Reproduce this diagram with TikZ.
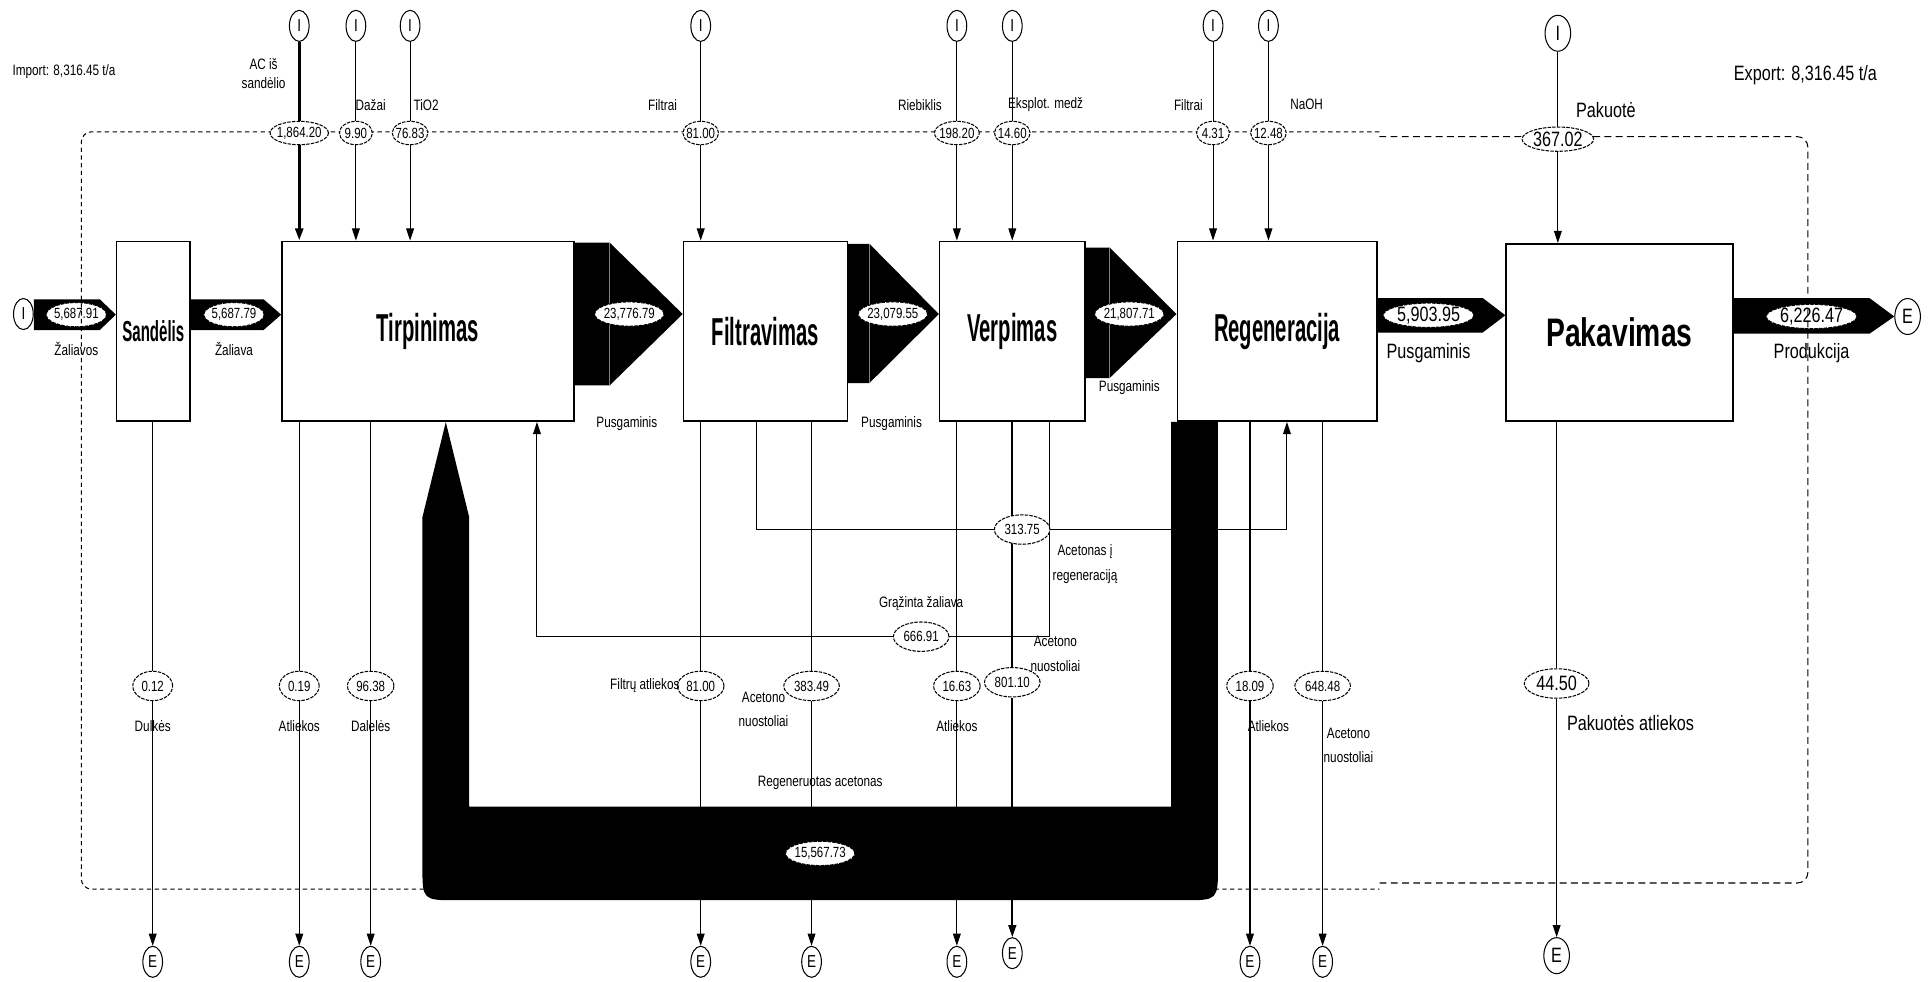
\documentclass[tikz,border=0pt]{standalone}
\usepackage{fontspec}
\setmainfont{Liberation Sans}[FakeStretch=0.78]
\newfontfamily\procfont{Liberation Sans}[FakeStretch=0.52]
\newfontfamily\pakfont{Liberation Sans}[FakeStretch=0.71]
\usetikzlibrary{shapes.geometric, arrows.meta, backgrounds}

\tikzstyle{process} = [
    rectangle,
    minimum height=3.65cm,
    draw=black,
    line width=0.9pt,
    fill=white,
    font=\procfont\bfseries\fontsize{22.5}{24}\selectfont
]
\tikzstyle{term} = [
    ellipse,
    draw=black,
    line width=0.6pt,
    fill=white,
    inner sep=0pt,
    minimum width=0.4cm,
    minimum height=0.63cm,
    font=\fontsize{10}{10}\selectfont
]
\tikzstyle{termbig} = [term, minimum width=0.52cm, minimum height=0.73cm, font=\fontsize{12}{12}\selectfont]
\tikzstyle{valtop} = [
    ellipse,
    draw=black,
    dash pattern=on 2pt off 0.7pt,
    line width=0.6pt,
    fill=white,
    inner xsep=-1pt,
    inner ysep=0pt,
    minimum width=19pt,
    minimum height=13.5pt,
    font=\fontsize{8.5}{9}\selectfont
]
\tikzstyle{val} = [valtop, inner xsep=1.2pt, minimum width=23pt, minimum height=17pt]
\tikzstyle{flowval} = [valtop, inner xsep=-0.6pt, minimum height=14pt]
\tikzstyle{valbig} = [valtop, inner xsep=0.3pt, minimum height=14pt, font=\fontsize{12}{12}\selectfont]
\tikzstyle{lbl} = [inner sep=0pt, align=center, font=\fontsize{8.7}{14}\selectfont]
\tikzstyle{lblbig} = [lbl, font=\fontsize{12}{14}\selectfont]
\tikzstyle{line} = [line width=0.6pt]
\tikzstyle{arrow} = [line width=0.6pt, -{Triangle[length=7pt,width=4.5pt]}]
\tikzstyle{flow} = [fill=black]
\tikzstyle{border} = [line width=0.6pt, dash pattern=on 2.5pt off 2pt, rounded corners=6pt]

\begin{document}
\begin{tikzpicture}[x=0.025cm, y=-0.025cm]
\useasboundingbox (0,0) rectangle (1568,797);

% processes
\node (sand) [process, minimum width=1.475cm, font=\procfont\bfseries\fontsize{16.7}{18}\selectfont] at (124.5,269) {Sandėlis};
\node (tirp) [process, minimum width=5.925cm] at (347.5,269) {Tirpinimas};
\node (filt) [process, minimum width=3.325cm] at (621.5,269) {Filtravimas};
\node (verp) [process, minimum width=2.95cm] at (822,269) {Verpimas};
\node (regen) [process, minimum width=4.05cm] at (1037,269) {Regeneracija};
\node (pak) [process, minimum width=4.6cm, minimum height=3.6cm, font=\pakfont\bfseries\fontsize{23}{24}\selectfont] at (1315,270) {Pakavimas};

% import and export
\node (iimp) [term] at (19,255) {I};
\node (eexp) [termbig] at (1549,257) {E};
\node (limp) [lbl] at (52,58) {Import: 8,316.45 t/a};
\node (lexp) [lblbig] at (1466,61) {Export: 8,316.45 t/a};

% inputs from above
\node (iac) [term] at (243,21) {I};
\node (idaz) [term] at (289,21) {I};
\node (itio) [term] at (333,21) {I};
\node (ifil) [term] at (569,21) {I};
\node (irieb) [term] at (777,21) {I};
\node (ieks) [term] at (822,21) {I};
\node (ifil2) [term] at (985,21) {I};
\node (inaoh) [term] at (1030,21) {I};
\node (ipak) [termbig] at (1265,27) {I};

\node (lac) [lbl, font=\fontsize{8.7}{11}\selectfont] at (214,60) {AC iš\\sandėlio};
\node (ldaz) [lbl] at (301,85) {Dažai};
\node (ltio) [lbl] at (346,85) {TiO2};
\node (lfil) [lbl] at (538,85) {Filtrai};
\node (lrieb) [lbl] at (747,85) {Riebiklis};
\node (leks) [lbl] at (849,85) {Eksplot. medž};
\node (lfil2) [lbl] at (965,85) {Filtrai};
\node (lnaoh) [lbl] at (1061,85) {NaOH};
\node (lpak) [lblbig] at (1304,89) {Pakuotė};

% outputs below
\node (edul) [term] at (124,781) {E};
\node (eatl1) [term] at (243,781) {E};
\node (edal) [term] at (301,781) {E};
\node (efatl) [term] at (569,781) {E};
\node (eacn1) [term] at (659,781) {E};
\node (eatl2) [term] at (777,781) {E};
\node (eacn2) [term] at (822,774) {E};
\node (eatl3) [term] at (1015,781) {E};
\node (eacn3) [term] at (1074,781) {E};
\node (epatl) [termbig] at (1264,776) {E};

\node (vdul) [val] at (124,557) {0.12};
\node (vatl1) [val] at (243,557) {0.19};
\node (vdal) [val] at (301,557) {96.38};
\node (vfatl) [val] at (569,557) {81.00};
\node (vacn1) [val] at (659,557) {383.49};
\node (vatl2) [val] at (777,557) {16.63};
\node (vacn2) [val] at (822,554) {801.10};
\node (vatl3) [val] at (1015,557) {18.09};
\node (vacn3) [val] at (1074,557) {648.48};
\node (vpatl) [valbig, minimum height=17pt, inner xsep=1.5pt] at (1264,555) {44.50};
\node (vaci) [val] at (830,430) {313.75};
\node (vgraz) [val] at (748,517) {666.91};

\node (ldul) [lbl] at (124,590) {Dulkės};
\node (latl1) [lbl] at (243,590) {Atliekos};
\node (ldal) [lbl] at (301,590) {Dalelės};
\node (lfatl) [lbl, anchor=east] at (552,557) {Filtrų atliekos};
\node (lacn1) [lbl] at (620,576) {Acetono\\nuostoliai};
\node (latl2) [lbl] at (777,590) {Atliekos};
\node (lacn2) [lbl] at (857,531) {Acetono\\nuostoliai};
\node (latl3) [lbl] at (1030,590) {Atliekos};
\node (lacn3) [lbl] at (1095,605) {Acetono\\nuostoliai};
\node (lpatl) [lblbig] at (1324,587) {Pakuotės atliekos};
\node (laci) [lbl] at (881,458) {Acetonas į\\regeneraciją};
\node (lgraz) [lbl] at (748,490) {Grąžinta žaliava};
\node (lreg) [lbl] at (666,636) {Regeneruotas acetonas};

% flow labels
\node (vzal1) [flowval] at (62,255.5) {5,687.91};
\node (vzal2) [flowval] at (190,255.5) {5,687.79};
\node (vpus1) [flowval] at (511,255) {23,776.79};
\node (vpus2) [flowval] at (725,255) {23,079.55};
\node (vpus3) [flowval] at (917,255) {21,807.71};
\node (vpus4) [valbig] at (1160,256) {5,903.95};
\node (vprod) [valbig] at (1471,257) {6,226.47};
\node (vreg) [flowval] at (666,693) {15,567.73};
\node (lzal1) [lbl] at (62,283) {Žaliavos};
\node (lzal2) [lbl] at (190,283) {Žaliava};
\node (lpus1) [lbl] at (509,344) {Pusgaminis};
\node (lpus2) [lbl] at (724,344) {Pusgaminis};
\node (lpus3) [lbl] at (917,315) {Pusgaminis};
\node (lpus4) [lblbig] at (1160,287) {Pusgaminis};
\node (lprod) [lblbig] at (1471,287) {Produkcija};

% system border
\draw [border] (1120,107) -- (66,107) -- (66,722) -- (1120,722);
\draw [border, dash pattern=on 4pt off 2.5pt] (1120,111) -- (1468,111) -- (1468,717) -- (1120,717);

% values on the border
\node (vac) [valtop] at (243,108) {1,864.20};
\node (vdaz) [valtop] at (289,108) {9.90};
\node (vtio) [valtop] at (333,108) {76.83};
\node (vfil) [valtop] at (569,108) {81.00};
\node (vrieb) [valtop] at (777,108) {198.20};
\node (veks) [valtop] at (822,108) {14.60};
\node (vfil2) [valtop] at (985,108) {4.31};
\node (vnaoh) [valtop] at (1030,108) {12.48};
\node (vpak) [valbig] at (1265,113) {367.02};

\begin{scope}[on background layer]
% inputs
\draw [line, line width=2pt] (iac) -- (vac);
\draw [arrow, line width=2pt] (vac) -- (vac |- tirp.north);
\draw [line] (idaz) -- (vdaz);
\draw [arrow] (vdaz) -- (vdaz |- tirp.north);
\draw [line] (itio) -- (vtio);
\draw [arrow] (vtio) -- (vtio |- tirp.north);
\draw [line] (ifil) -- (vfil);
\draw [arrow] (vfil) -- (vfil |- filt.north);
\draw [line] (irieb) -- (vrieb);
\draw [arrow] (vrieb) -- (vrieb |- verp.north);
\draw [line] (ieks) -- (veks);
\draw [arrow] (veks) -- (veks |- verp.north);
\draw [line] (ifil2) -- (vfil2);
\draw [arrow] (vfil2) -- (vfil2 |- regen.north);
\draw [line] (inaoh) -- (vnaoh);
\draw [arrow] (vnaoh) -- (vnaoh |- regen.north);
\draw [line] (ipak) -- (vpak);
\draw [arrow] (vpak) -- (vpak |- pak.north);

% outputs
\draw [line] (vdul |- sand.south) -- (vdul);
\draw [arrow] (vdul) -- (edul);
\draw [line] (vatl1 |- tirp.south) -- (vatl1);
\draw [arrow] (vatl1) -- (eatl1);
\draw [line] (vdal |- tirp.south) -- (vdal);
\draw [arrow] (vdal) -- (edal);
\draw [line] (vfatl |- filt.south) -- (vfatl);
\draw [arrow] (vfatl) -- (efatl);
\draw [line] (vacn1 |- filt.south) -- (vacn1);
\draw [arrow] (vacn1) -- (eacn1);
\draw [line] (vatl2 |- verp.south) -- (vatl2);
\draw [arrow] (vatl2) -- (eatl2);
\draw [line, line width=1.2pt] (vacn2 |- verp.south) -- (vacn2);
\draw [arrow, line width=1.2pt] (vacn2) -- (eacn2);
\draw [line] (vatl3 |- regen.south) -- (vatl3);
\draw [arrow] (vatl3) -- (eatl3);
\draw [line] (vacn3 |- regen.south) -- (vacn3);
\draw [arrow] (vacn3) -- (eacn3);
\draw [line] (vpatl |- pak.south) -- (vpatl);
\draw [arrow] (vpatl) -- (epatl);

% acetone to regeneration
\draw [line] (filt.south -| 614,0) -- (614,430) -- (vaci);
\draw [arrow] (vaci) -- (1045,430) -- (regen.south -| 1045,0);
% returned raw material
\draw [line] (verp.south -| 852,0) -- (852,517) -- (vgraz);
\draw [arrow] (vgraz) -- (436,517) -- (tirp.south -| 436,0);

% main flows
\fill [flow] (iimp.east |- 0,243) -- (81,243) -- (sand.west |- 0,255.5) -- (81,268) -- (iimp.east |- 0,268) -- cycle;
\fill [flow] (sand.east |- 0,243) -- (214,243) -- (tirp.west |- 0,255.5) -- (214,268) -- (sand.east |- 0,268) -- cycle;
\fill [flow] (tirp.east |- 0,197) -- (495,197) -- (filt.west |- 0,255) -- (495,313) -- (tirp.east |- 0,313) -- cycle;
\draw [gray] (495,197) -- (495,313);
\fill [flow] (filt.east |- 0,198) -- (706,198) -- (verp.west |- 0,255) -- (706,311) -- (filt.east |- 0,311) -- cycle;
\draw [gray] (706,198) -- (706,311);
\fill [flow] (verp.east |- 0,201) -- (901,201) -- (regen.west |- 0,255) -- (901,307) -- (verp.east |- 0,307) -- cycle;
\draw [gray] (901,201) -- (901,307);
\fill [flow] (regen.east |- 0,242) -- (1204,242) -- (pak.west |- 0,256) -- (1204,270) -- (regen.east |- 0,270) -- cycle;
\fill [flow] (pak.east |- 0,242) -- (1518,242) -- (eexp.west |- 0,257) -- (1518,271) -- (pak.east |- 0,271) -- cycle;

% regenerated acetone back to dissolving
\fill [flow] (regen.south -| 951,0) -- (regen.south -| 989,0) -- (989,703) .. controls (989,731) .. (961,731)
    -- (371,731) .. controls (343,731) .. (343,703) -- (343,420) -- (tirp.south -| 362,0)
    -- (381,420) -- (381,655) -- (951,655) -- cycle;
\end{scope}

\end{tikzpicture}
\end{document}
